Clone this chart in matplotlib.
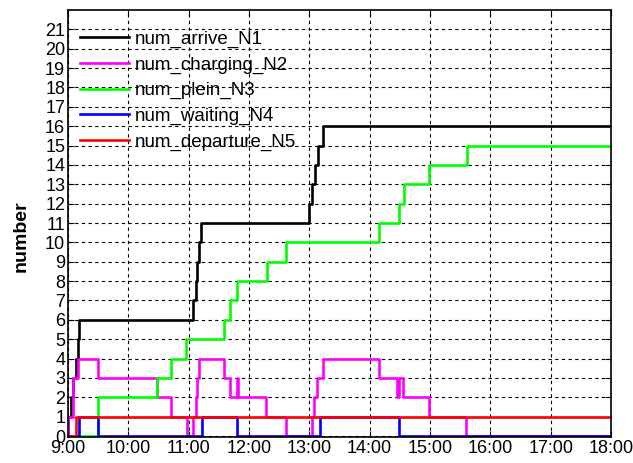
import matplotlib
matplotlib.use("Agg")
import matplotlib.pyplot as plt

# 時刻（時）と台数の階段データ
t_arrive = [9.0, 9.005, 9.05, 9.09, 9.14, 9.16, 9.19, 11.08, 11.12, 11.14, 11.17, 11.21,
            13.00, 13.05, 13.09, 13.14, 13.22, 18.0]
n_arrive = [0, 1, 2, 3, 4, 5, 6, 7, 8, 9, 10, 11, 12, 13, 14, 15, 16, 16]

t_charging = [9.0, 9.005, 9.09, 9.17, 9.49, 10.47, 10.71, 10.97, 11.08, 11.12, 11.14, 11.17,
              11.59, 11.69, 11.80, 11.81, 12.29, 12.61, 13.04, 13.08, 13.12, 13.22,
              14.16, 14.46, 14.49, 14.56, 14.98, 15.60, 18.0]
n_charging = [0, 1, 3, 4, 3, 2, 1, 0, 1, 2, 3, 4,
              3, 2, 3, 2, 1, 0, 1, 2, 3, 4,
              3, 2, 3, 2, 1, 0, 0]

t_plein = [9.0, 9.50, 10.48, 10.71, 10.96, 11.59, 11.69, 11.80, 12.30, 12.62,
           14.16, 14.48, 14.57, 14.98, 15.61, 18.0]
n_plein = [0, 2, 3, 4, 5, 6, 7, 8, 9, 10, 11, 12, 13, 14, 15, 15]

t_waiting = [9.0, 9.18, 9.49, 11.22, 11.80, 13.18, 14.48, 18.0]
n_waiting = [0, 1, 0, 1, 0, 1, 0, 0]

t_departure = [9.0, 9.13, 18.0]
n_departure = [0, 1, 1]

hour_ticks = list(range(9, 19))
hour_labels = [f"{h}:00" for h in hour_ticks]

plt.rcParams['font.family'] = ['Liberation Sans', 'DejaVu Sans']

fig = plt.figure(figsize=(6.33, 4.63), dpi=100)
ax = fig.add_axes([0.1074, 0.0562, 0.8579, 0.9222])

lw = 1.9
ax.step(t_arrive, n_arrive, where='post', color='black', lw=lw, label='num_arrive_N1')
ax.step(t_charging, n_charging, where='post', color='#FF00FF', lw=lw, label='num_charging_N2')
ax.step(t_plein, n_plein, where='post', color='#00FF00', lw=lw, label='num_plein_N3')
ax.step(t_waiting, n_waiting, where='post', color='#0000FF', lw=lw, label='num_waiting_N4')
ax.step(t_departure, n_departure, where='post', color='#FF0000', lw=lw, label='num_departure_N5')

ax.set_xlim(9, 18)
ax.set_ylim(-0.05, 22)
ax.set_xticks(hour_ticks)
ax.set_xticklabels(hour_labels)
ax.set_yticks(range(0, 22))
ax.tick_params(labelsize=13, direction='in', length=4, top=True, right=True, pad=2)
ax.grid(True, color='black', linestyle=(0, (3, 3)), linewidth=0.8)
for s in ax.spines.values():
    s.set_linewidth(1.2)

ax.set_ylabel('number', fontsize=14, fontweight='bold')
ax.yaxis.set_label_coords(-0.07, 0.47)

ax.legend(loc='upper left', bbox_to_anchor=(0.023, 0.952), frameon=False,
          fontsize=13.5, borderaxespad=0, borderpad=0, handlelength=2.6,
          handletextpad=0.3, labelspacing=0.45)

fig.savefig('out.png', dpi=100)
